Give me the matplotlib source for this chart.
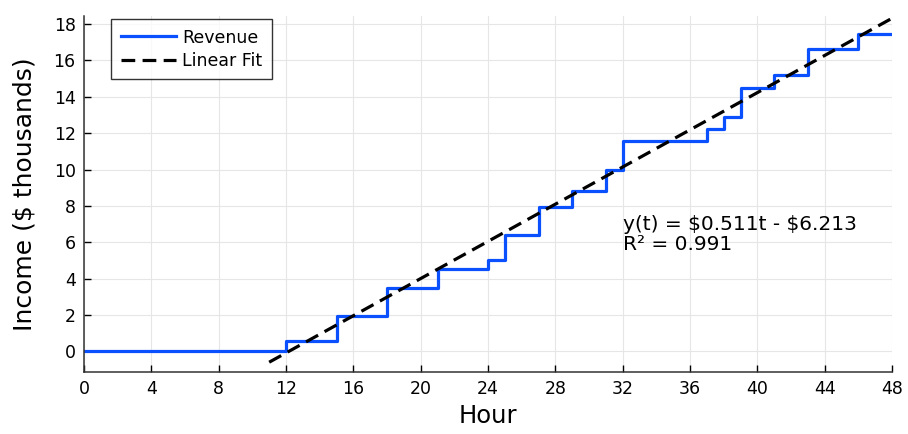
import numpy as np
import matplotlib.pyplot as plt

# hourly revenue steps ($ thousands), value holds from each start hour onward
step_hours = [0, 12, 15, 18, 21, 24, 25, 27, 29, 31, 32, 37, 38, 39, 41, 43, 46, 48]
step_income = [0.0, 0.55, 1.95, 3.5, 4.55, 5.05, 6.4, 7.95, 8.8, 10.0, 11.55,
               12.25, 12.9, 14.5, 15.2, 16.65, 17.45, 17.45]

# linear fit y(t) = a*t + b
fit_slope = 0.511
fit_intercept = -6.213
fit_r2 = 0.991
fit_range = [11, 48]

x_ticks = list(range(0, 49, 4))
y_ticks = list(range(0, 19, 2))

plt.rcParams['font.family'] = 'DejaVu Sans'

fig = plt.figure(figsize=(9.08, 4.34), dpi=100)
ax = fig.add_axes([84 / 908, 62 / 434, 808 / 908, 356 / 434])

ax.step(step_hours, step_income, where="post", color="#0a50ff", lw=2.3,
        label="Revenue")

t = np.array(fit_range, dtype=float)
ax.plot(t, fit_slope * t + fit_intercept, color="black", lw=2.3,
        ls=(0, (4.3, 2.3)), label="Linear Fit")

fit_text = (f"y(t) = \\${fit_slope:.3f}t - \\${abs(fit_intercept):.3f}\n"
            f"R² = {fit_r2:.3f}")
ax.text(32, 6.45, fit_text, fontsize=14.5, ha="left", va="center",
        linespacing=1.08)

ax.set_xlim(0, 48)
ax.set_ylim(-1.13, 18.44)
ax.set_xticks(x_ticks)
ax.set_yticks(y_ticks)
ax.tick_params(direction="in", length=5, width=1, labelsize=12.5, pad=6)
ax.grid(True, color="#e6e6e6", lw=0.8)
ax.set_axisbelow(True)
for side in ["top", "right"]:
    ax.spines[side].set_visible(False)
for side in ["left", "bottom"]:
    ax.spines[side].set_color("#333333")
    ax.spines[side].set_linewidth(1.1)

ax.set_xlabel("Hour", fontsize=17.5, labelpad=4)
ax.set_ylabel("Income (\\$ thousands)", fontsize=18, labelpad=12)

leg = ax.legend(loc="upper left", bbox_to_anchor=(27 / 808, 1 - 3 / 356),
                borderaxespad=0, fontsize=12.5, frameon=True, fancybox=False,
                handlelength=3.2, borderpad=0.55, labelspacing=0.3,
                handletextpad=0.35)
leg.get_frame().set_edgecolor("black")
leg.get_frame().set_linewidth(1.0)

fig.savefig("out.png", dpi=100)
